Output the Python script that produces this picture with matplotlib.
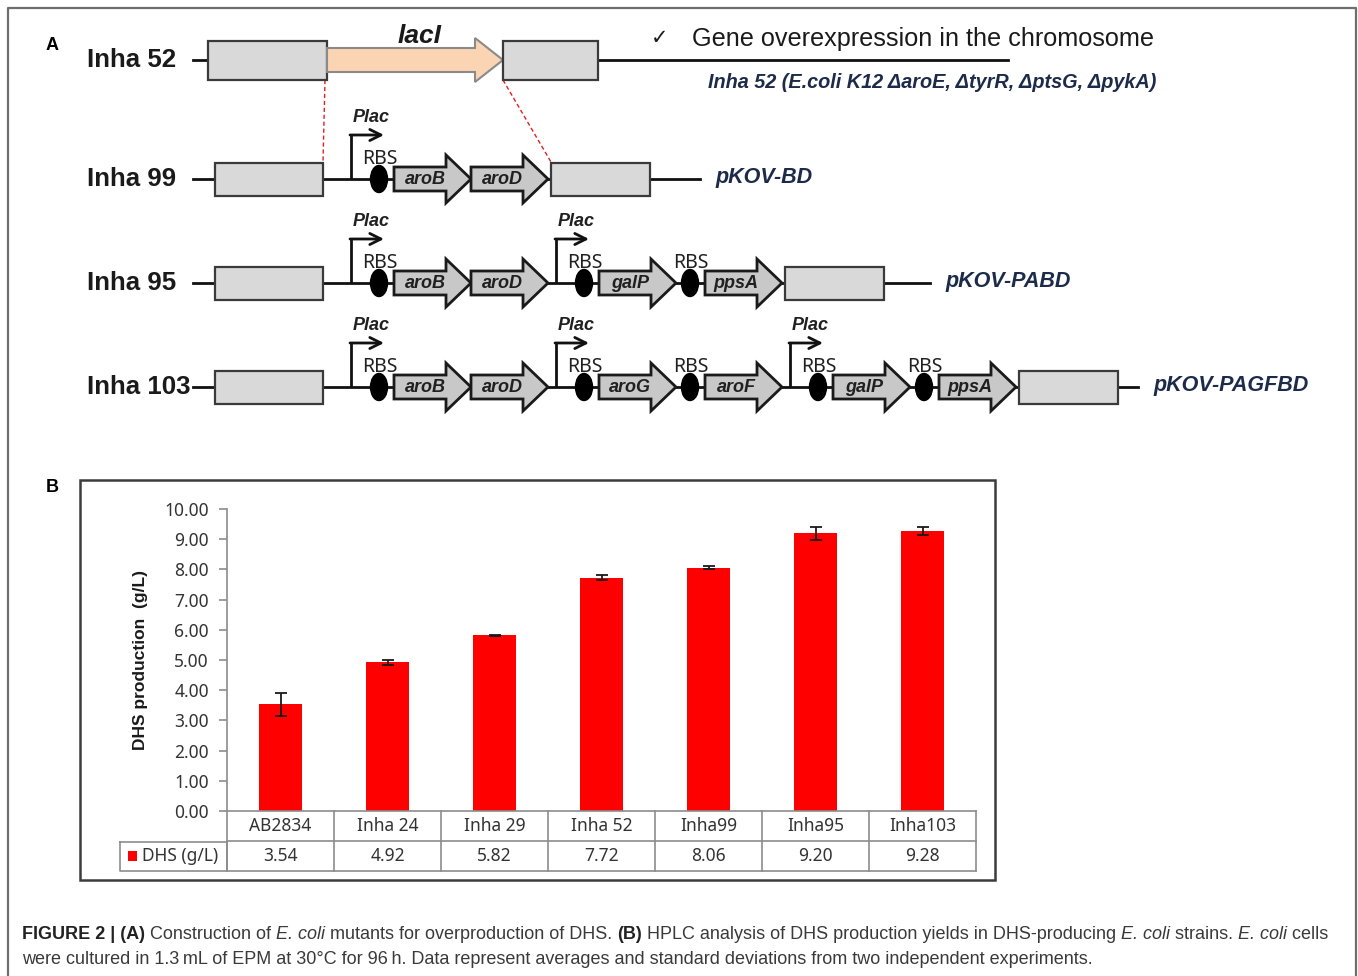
import matplotlib
matplotlib.use("Agg")
import matplotlib.pyplot as plt
import numpy as np
from matplotlib import font_manager
from matplotlib.patches import Rectangle, Polygon, Ellipse

# DHS titres (g/L) of the strains, mean and SD of two runs
strains = ['AB2834', 'Inha 24', 'Inha 29', 'Inha 52', 'Inha99', 'Inha95', 'Inha103']
dhs_yield = [3.54, 4.92, 5.82, 7.72, 8.06, 9.20, 9.28]
dhs_sd = [0.38, 0.08, 0.02, 0.08, 0.05, 0.22, 0.13]
yticks = [0, 1, 2, 3, 4, 5, 6, 7, 8, 9, 10]
series_name = 'DHS (g/L)'

# host strain and plasmid constructs of panel A
host_name = 'Inha 52'
host_genotype = 'Inha 52 (E.coli K12 \u0394aroE, \u0394tyrR, \u0394ptsG, \u0394pykA)'
host_note = 'Gene overexpression in the chromosome'
construct_names = ['Inha 99', 'Inha 95', 'Inha 103']
plasmid_names = ['pKOV-BD', 'pKOV-PABD', 'pKOV-PAGFBD']
# construct -> operons (one Plac each) -> cistrons (one RBS each) -> genes
construct_operons = [
    [[['aroB', 'aroD']]],
    [[['aroB', 'aroD']], [['galP'], ['ppsA']]],
    [[['aroB', 'aroD']], [['aroG'], ['aroF']], [['galP'], ['ppsA']]],
]

caption_line1 = [('FIGURE 2 | (A)', 'bold', 'normal'), (' Construction of ', 'normal', 'normal'),
                 ('E. coli', 'normal', 'italic'), (' mutants for overproduction of DHS. ', 'normal', 'normal'),
                 ('(B)', 'bold', 'normal'),
                 (' HPLC analysis of DHS production yields in DHS-producing ', 'normal', 'normal'),
                 ('E. coli', 'normal', 'italic'), (' strains. ', 'normal', 'normal'),
                 ('E. coli', 'normal', 'italic'), (' cells', 'normal', 'normal')]
caption_line2 = [('were cultured in 1.3\u2009mL of EPM at 30\u00b0C for 96\u2009h. Data represent averages '
                  'and standard deviations from two independent experiments.', 'normal', 'normal')]

avail = {f.name for f in font_manager.fontManager.ttflist}


def pick(*names):
    for n in names:
        if n in avail:
            return n
    return 'DejaVu Sans'


NARROW = pick('Liberation Sans Narrow', 'Liberation Sans')
SANS = pick('Liberation Sans', 'Arial')
KR = pick('Noto Sans CJK KR', 'Noto Sans')
NAVY = '#1d2b4b'

W, H = 1358, 976
fig = plt.figure(figsize=(W / 100, H / 100), dpi=100)
ax0 = fig.add_axes([0, 0, 1, 1])
ax0.set_xlim(0, W)
ax0.set_ylim(H, 0)
ax0.axis('off')
renderer = fig.canvas.get_renderer()


def fit(t, target):
    w = t.get_window_extent(renderer).width
    t.set_fontsize(t.get_fontsize() * target / w)
    return t


def box(x0, x1, y, h):
    ax0.add_patch(Rectangle((x0, y - h / 2), x1 - x0, h, fc='#d9d9d9', ec='#3a3a3a', lw=1.6, zorder=3))


def gene_arrow(x0, y, length, name):
    body, head, hl = 12, 24, 25
    pts = [(x0, y - body), (x0 + length - hl, y - body), (x0 + length - hl, y - head), (x0 + length, y),
           (x0 + length - hl, y + head), (x0 + length - hl, y + body), (x0, y + body)]
    ax0.add_patch(Polygon(pts, closed=True, fc='#c8c8c8', ec='#1a1a1a', lw=2, joinstyle='miter', zorder=3))
    ax0.text(x0 + (length - hl) / 2 + 5, y + 1, name, ha='center', va='center', fontsize=13,
             fontweight='bold', fontstyle='italic', family=NARROW, color='#202020', zorder=4)


def promoter(x, y, top):
    ax0.plot([x, x], [y, top], color='#111111', lw=2, zorder=2, solid_capstyle='butt')
    ax0.annotate('', xy=(x + 33, top), xytext=(x - 1, top),
                 arrowprops=dict(arrowstyle='->', lw=2, color='#111111', mutation_scale=20,
                                 shrinkA=0, shrinkB=0), zorder=2)
    ax0.text(x + 20, top - 17, 'Plac', ha='center', va='center', fontsize=13, fontweight='bold',
             fontstyle='italic', family=NARROW, color='#202020')


def rbs(x, y):
    ax0.add_patch(Ellipse((x, y), 17, 27, fc='black', ec='black', zorder=3))
    ax0.text(x + 1, y - 15, 'RBS', ha='center', va='baseline', fontsize=14, family=KR, color='#202020', zorder=4)


# outer frame of the figure
ax0.plot([8, 8, 1356, 1356], [H, 8, 8, H], color='#6e6e6e', lw=1.6)
ax0.text(52, 46, 'A', ha='center', va='center', fontsize=13, fontweight='bold', family=SANS)
ax0.text(52, 487, 'B', ha='center', va='center', fontsize=13, fontweight='bold', family=SANS)

# chromosome of the host strain with lacI replaced
y1 = 60
lab = ax0.text(87, y1, host_name, ha='left', va='center', fontsize=21, fontweight='bold', family=NARROW,
               color='#1a1a1a')
fit(lab, 89)
label_size = lab.get_fontsize()
ax0.plot([193, 1008], [y1, y1], color='#111111', lw=2, zorder=1)
box(208, 327, y1, 39)
lac_pts = [(327, y1 - 12), (475, y1 - 12), (475, y1 - 22), (503, y1), (475, y1 + 22), (475, y1 + 12), (327, y1 + 12)]
ax0.add_patch(Polygon(lac_pts, closed=True, fc='#fbd4b4', ec='#8a8a8a', lw=1.5, zorder=3))
box(503, 598, y1, 39)
ax0.text(420, 36, 'lacI', ha='center', va='center', fontsize=19, fontweight='bold', fontstyle='italic',
         family=NARROW, color='#1a1a1a')
ax0.text(660, 38, '\u2713', ha='center', va='center', fontsize=15, family='DejaVu Sans', color='#1a1a1a')
t = ax0.text(692, 39, host_note, ha='left', va='center', fontsize=18, family=SANS, color='#1a1a1a')
fit(t, 463)
t = ax0.text(708, 82, host_genotype, ha='left', va='center', fontsize=15, fontweight='bold', fontstyle='italic',
             family=[NARROW, 'DejaVu Sans'], color=NAVY)
fit(t, 450)

# plasmid constructs
tails = (50, 46, 20)
for i, (name, plasmid, operons) in enumerate(zip(construct_names, plasmid_names, construct_operons)):
    y = 179 + 104 * i
    lab = ax0.text(87, y, name, ha='left', va='center', fontsize=label_size, fontweight='bold', family=NARROW,
                   color='#1a1a1a')
    lab_end = lab.get_window_extent(renderer).x1
    box(215, 323, y, 33)
    x = 323
    for k, operon in enumerate(operons):
        x += 28 if k == 0 else 8
        promoter(x, y, y - 44)
        for j, cistron in enumerate(operon):
            x += 28 if j == 0 else 14
            rbs(x, y)
            x += 15
            for gene in cistron:
                gene_arrow(x, y, 77, gene)
                x += 77
    x += 3
    box(x, x + 99, y, 33)
    end = x + 99 + tails[i]
    ax0.plot([max(193, lab_end + 1), end], [y, y], color='#111111', lw=2, zorder=1)
    ax0.text(end + 15, y - 2, plasmid, ha='left', va='center', fontsize=15.5, fontweight='bold',
             fontstyle='italic', family=NARROW, color=NAVY)

# red dashed guides from the lacI locus to pKOV-BD
ax0.plot([325, 323], [80, 162], color='#e02020', lw=1, ls=(0, (3, 2)), zorder=2)
ax0.plot([503, 551], [80, 162], color='#e02020', lw=1, ls=(0, (3, 2)), zorder=2)

# panel B frame
ax0.add_patch(Rectangle((80, 480), 915, 400, fc='none', ec='#3c3c3c', lw=1.8))

# bar chart
left, right, top, base = 227, 976, 509, 811
bx = fig.add_axes([left / W, 1 - base / H, (right - left) / W, (base - top) / H])
bx.patch.set_alpha(0)
xs = np.arange(len(strains))
bx.bar(xs, dhs_yield, width=0.4, color='#ff0000', yerr=dhs_sd, capsize=4,
       error_kw=dict(elinewidth=1.3, capthick=1.3, ecolor='#1a1a1a'))
bx.set_xlim(-0.5, len(strains) - 0.5)
bx.set_ylim(0, 10)
bx.set_yticks(yticks)
bx.set_yticklabels(['%.2f' % v for v in yticks], family=KR, fontsize=12.5, color='#333333')
bx.set_xticks([])
for s in ('top', 'right', 'bottom'):
    bx.spines[s].set_visible(False)
bx.spines['left'].set_color('#8c8c8c')
bx.spines['left'].set_linewidth(1.2)
bx.tick_params(axis='y', length=6, color='#8c8c8c', width=1.2, pad=7)
ax0.text(140, 660, 'DHS production  (g/L)', rotation=90, ha='center', va='center', fontsize=12.5,
         fontweight='bold', family=SANS, color='#1a1a1a')

# data table under the bars
tx = fig.add_axes([left / W, 1 - 871 / H, (right - left) / W, 60 / H])
tx.set_xlim(-0.5, len(strains) - 0.5)
tx.set_ylim(2, 0)
tx.axis('off')
grid = dict(color='#8c8c8c', lw=1.2, clip_on=False)
for xv in np.arange(len(strains) + 1) - 0.5:
    tx.plot([xv, xv], [0, 2], **grid)
for yv in (0, 1, 2):
    tx.plot([-0.5, len(strains) - 0.5], [yv, yv], **grid)
for xi, name, val in zip(xs, strains, dhs_yield):
    tx.text(xi, 0.5, name, ha='center', va='center', fontsize=12.5, family=KR, color='#333333')
    tx.text(xi, 1.5, '%.2f' % val, ha='center', va='center', fontsize=12.5, family=KR, color='#333333')
ax0.plot([120, 227, 227, 120, 120], [842, 842, 871, 871, 842], color='#8c8c8c', lw=1.2)
ax0.add_patch(Rectangle((128, 851), 9, 10, fc='#ff0000', ec='none'))
ax0.text(142, 856, series_name, ha='left', va='center', fontsize=12.5, family=KR, color='#333333')


# caption below the panels
def draw_runs(x, y, runs, size):
    out = []
    for txt, weight, style in runs:
        tt = ax0.text(x, y, txt, ha='left', va='baseline', fontsize=size, fontweight=weight, fontstyle=style,
                      family=[NARROW, 'DejaVu Sans'], color='#222222' if weight == 'bold' else '#3a3a3a')
        x = tt.get_window_extent(renderer).x1
        out.append(tt)
    return out, x


probe, x_end = draw_runs(22, 939, caption_line1, 12)
scale = (1333 - 22) / (x_end - 22)
for tt in probe:
    tt.remove()
draw_runs(22, 939, caption_line1, 12 * scale)
draw_runs(22, 964, caption_line2, 12 * scale)

fig.savefig('out.png', dpi=100)
